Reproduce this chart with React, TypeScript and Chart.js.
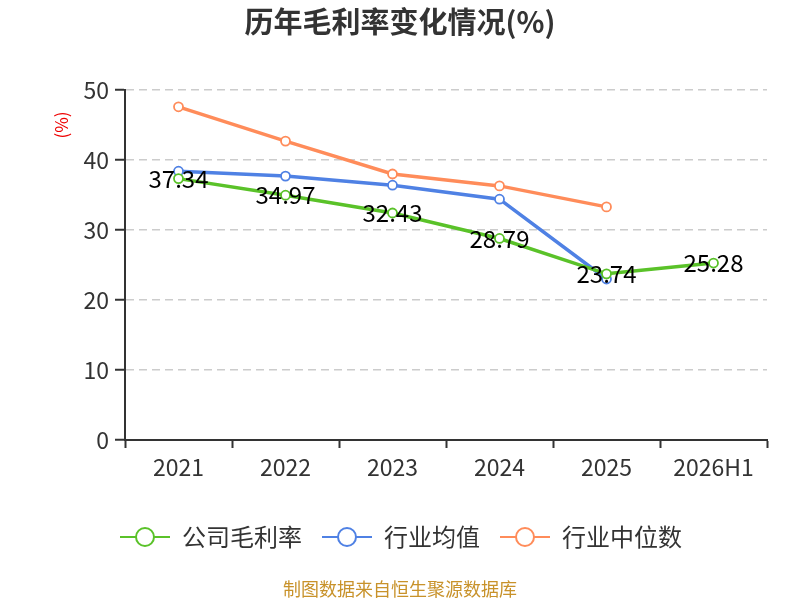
import React, { useEffect, useRef } from "react";
import { Chart, registerables } from "chart.js";

Chart.register(...registerables);

const years = ["2021", "2022", "2023", "2024", "2025", "2026H1"];
const companyMargin = [37.34, 34.97, 32.43, 28.79, 23.74, 25.28];
const industryAvg = [38.4, 37.7, 36.4, 34.4, 23.0, null];
const industryMedian = [47.6, 42.7, 38.0, 36.3, 33.3, null];
const yTicks = [0, 10, 20, 30, 40, 50];

const FONT = "'Noto Sans CJK SC', 'Noto Sans', sans-serif";
const GREEN = "#5ac229";
const BLUE = "#4f81e4";
const ORANGE = "#ff8c5a";

// legend symbol: short line with a hollow circle in the middle
function makeIcon(color: string) {
  const c = document.createElement("canvas");
  c.width = 50;
  c.height = 22;
  const ctx = c.getContext("2d")!;
  ctx.strokeStyle = color;
  ctx.lineWidth = 2;
  ctx.beginPath();
  ctx.moveTo(0, 11);
  ctx.lineTo(50, 11);
  ctx.stroke();
  ctx.beginPath();
  ctx.arc(25, 11, 9, 0, Math.PI * 2);
  ctx.fillStyle = "#fff";
  ctx.fill();
  ctx.stroke();
  return c;
}

const textPlugin = {
  id: "texts",
  afterDraw(chart: Chart) {
    const { ctx } = chart;
    ctx.save();
    // title
    ctx.fillStyle = "#333";
    ctx.font = `bold 29px ${FONT}`;
    ctx.textAlign = "center";
    ctx.textBaseline = "middle";
    ctx.fillText("历年毛利率变化情况(%)", 400, 22);
    // footer
    ctx.fillStyle = "#c8922a";
    ctx.font = `18px ${FONT}`;
    ctx.fillText("制图数据来自恒生聚源数据库", 400, 589);
    // y axis unit
    ctx.save();
    ctx.translate(62, 125);
    ctx.rotate(-Math.PI / 2);
    ctx.fillStyle = "#e00";
    ctx.font = `17px ${FONT}`;
    ctx.fillText("(%)", 0, 0);
    ctx.restore();
    // value labels on company series
    const meta = chart.getDatasetMeta(0);
    ctx.fillStyle = "#000";
    ctx.font = `24px ${FONT}`;
    meta.data.forEach((pt, i) => {
      ctx.fillText(companyMargin[i].toFixed(2), pt.x, pt.y);
    });
    ctx.restore();
  },
};

export default function App() {
  const canvasRef = useRef<HTMLCanvasElement>(null);

  useEffect(() => {
    document.body.style.margin = "0";
    if (!canvasRef.current) return;
    const icons = [makeIcon(GREEN), makeIcon(BLUE), makeIcon(ORANGE)];

    const lineStyle = (color: string) => ({
      borderColor: color,
      backgroundColor: color,
      borderWidth: 3.5,
      pointRadius: 4.5,
      pointBorderWidth: 1.8,
      pointBackgroundColor: "#fff",
      pointBorderColor: color,
      tension: 0,
    });

    const chart = new Chart(canvasRef.current, {
      type: "line",
      data: {
        labels: years,
        datasets: [
          { label: "公司毛利率", data: companyMargin, ...lineStyle(GREEN), order: 1 },
          { label: "行业均值", data: industryAvg, ...lineStyle(BLUE), order: 2 },
          { label: "行业中位数", data: industryMedian, ...lineStyle(ORANGE), order: 3 },
        ],
      },
      plugins: [textPlugin],
      options: {
        responsive: false,
        animation: false,
        devicePixelRatio: 1,
        layout: { padding: { top: 90, left: 35, right: 33, bottom: 41 } },
        plugins: {
          title: { display: false },
          tooltip: { enabled: false },
          legend: {
            position: "bottom",
            labels: {
              usePointStyle: true,
              pointStyleWidth: 50,
              padding: 20,
              color: "#333",
              font: { size: 24, family: FONT },
              generateLabels: (c: Chart) =>
                Chart.defaults.plugins.legend.labels
                  .generateLabels(c)
                  .map((item, i) => ({ ...item, pointStyle: icons[i] })),
            },
          },
        },
        scales: {
          x: {
            offset: true,
            afterFit: (s: any) => {
              s.height = 65;
            },
            border: { color: "#333", width: 2 },
            grid: {
              offset: true,
              drawOnChartArea: false,
              drawTicks: true,
              tickLength: 8,
              tickColor: "#333",
              tickWidth: 2,
            },
            ticks: { color: "#333", padding: 5, font: { size: 23, family: FONT } },
          },
          y: {
            min: 0,
            max: 50,
            afterFit: (s: any) => {
              s.width = 90;
            },
            afterBuildTicks: (s: any) => {
              s.ticks = yTicks.map((v) => ({ value: v }));
            },
            border: { color: "#333", width: 2 },
            grid: {
              color: "#ccc",
              lineWidth: 1.5,
              tickLength: 10,
              tickColor: "#333",
              tickWidth: 2,
              tickBorderDash: [],
            },
            ticks: { color: "#333", padding: 6, font: { size: 23, family: FONT } },
          },
        },
      },
    });

    // dashed gridlines on the value axis
    (chart.options.scales!.y as any).grid.borderDash = [8, 5];
    (chart.options.scales!.y as any).border.dash = [8, 5];
    chart.update();

    return () => chart.destroy();
  }, []);

  return (
    <div style={{ width: 800, height: 600 }}>
      <canvas ref={canvasRef} width={800} height={600} />
    </div>
  );
}
